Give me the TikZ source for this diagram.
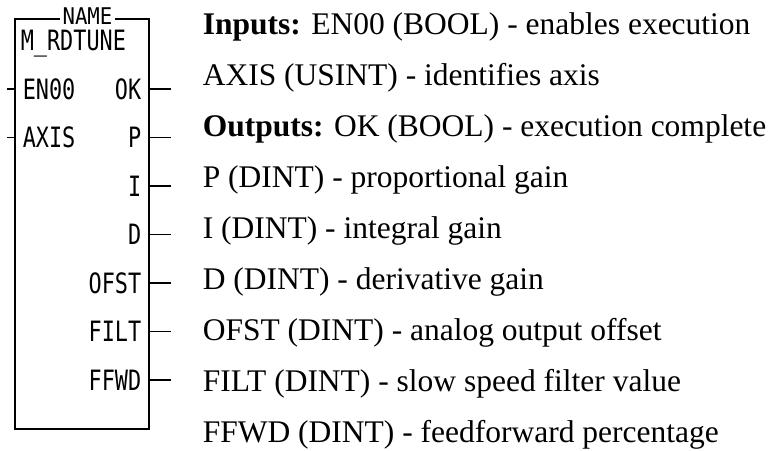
\documentclass[tikz,border=0pt]{standalone}
\usepackage{fontspec}
\setmainfont{Liberation Serif}
\newfontfamily\plcfont[FakeStretch=0.78]{DejaVu Sans Mono}
\newfontfamily\plctitlefont[FakeStretch=0.9]{DejaVu Sans Mono}
\begin{document}
\begin{tikzpicture}[x=1pt,y=-1pt, line width=1.6pt,
  blockbox/.style={draw, minimum width=134pt, minimum height=410pt, inner sep=0pt, anchor=north west},
  pinlbl/.style={font=\plcfont\fontsize{28}{28}\selectfont, inner sep=0pt},
  titlelbl/.style={font=\plctitlefont\fontsize{23}{23}\selectfont, inner ysep=0pt, inner xsep=3pt, fill=white, anchor=base},
  desc/.style={font=\fontsize{31.5}{31.5}\selectfont, anchor=base west, inner sep=0pt}]
\useasboundingbox (0,0) rectangle (773,450);
\node[blockbox] (blk) at (14,18) {};
\node[titlelbl] (title) at (87.5,24) {NAME};
\node[pinlbl, anchor=base west] (fname) at (20,50) {M\_RDTUNE};
% inputs
\node[pinlbl, anchor=west] (en) at (22,89) {EN00};
\node[pinlbl, anchor=west] (axis) at (22,137.5) {AXIS};
\foreach \n in {en,axis}{
  \draw (blk.west |- \n.west) -- ++(-7,0);
}
% outputs
\node[pinlbl, anchor=east] (ok) at (142,89) {OK};
\node[pinlbl, anchor=east] (p) at (142,137.5) {P};
\node[pinlbl, anchor=east] (i) at (142,186) {I};
\node[pinlbl, anchor=east] (d) at (142,234.5) {D};
\node[pinlbl, anchor=east] (ofst) at (142,283) {OFST};
\node[pinlbl, anchor=east] (filt) at (142,331.5) {FILT};
\node[pinlbl, anchor=east] (ffwd) at (142,380) {FFWD};
\foreach \n in {ok,p,i,d,ofst,filt,ffwd}{
  \draw (blk.east |- \n.east) -- ++(21,0);
}
% description
\node[desc] (l1) at (202,34) {\textbf{Inputs:} EN00 (BOOL) - enables execution};
\node[desc] (l2) at (202,85) {AXIS (USINT) - identifies axis};
\node[desc] (l3) at (202,136) {\textbf{Outputs:} OK (BOOL) - execution complete};
\node[desc] (l4) at (202,187) {P (DINT) - proportional gain};
\node[desc] (l5) at (202,238) {I (DINT) - integral gain};
\node[desc] (l6) at (202,289) {D (DINT) - derivative gain};
\node[desc] (l7) at (202,340) {OFST (DINT) - analog output offset};
\node[desc] (l8) at (202,391) {FILT (DINT) - slow speed filter value};
\node[desc] (l9) at (202,442) {FFWD (DINT) - feedforward percentage};
\end{tikzpicture}
\end{document}
